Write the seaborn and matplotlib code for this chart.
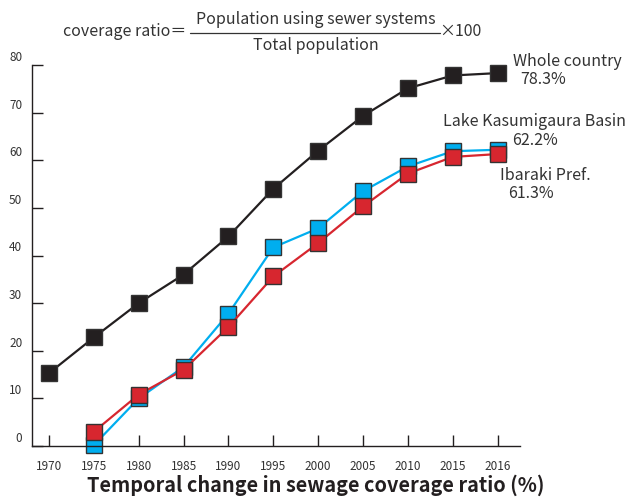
import matplotlib
matplotlib.use("Agg")
import matplotlib.pyplot as plt
import matplotlib.transforms as mtransforms
from matplotlib.lines import Line2D
import seaborn as sns
import pandas as pd

# 年次と下水道普及率 (%)
years = ["1970", "1975", "1980", "1985", "1990", "1995", "2000", "2005", "2010", "2015", "2016"]
whole_country = [15.3, 22.8, 30.0, 36.0, 44.0, 54.0, 62.0, 69.3, 75.1, 77.8, 78.3]
kasumigaura = [None, 0.2, 10.0, 16.6, 27.8, 41.7, 45.7, 53.5, 58.7, 61.9, 62.2]
ibaraki = [None, 3.0, 10.8, 16.0, 25.0, 35.6, 42.6, 50.3, 57.2, 60.7, 61.3]
yticks = [0, 10, 20, 30, 40, 50, 60, 70, 80]

df = pd.DataFrame({"year": years, "whole": whole_country,
                   "lake": kasumigaura, "ibaraki": ibaraki})

sns.set_style("white")
plt.rcParams["font.family"] = ["Noto Sans CJK JP", "DejaVu Sans"]

fig = plt.figure(figsize=(6.25, 4.97), dpi=100)
ax = fig.add_axes([32 / 625, 51 / 497, 488 / 625, 381 / 497])

style = dict(markers="s", markersize=12, markeredgecolor="#333333",
             markeredgewidth=1.0, linewidth=1.6, clip_on=False)
sns.pointplot(data=df, x="year", y="whole", color="#231f20", ax=ax, **style)
sns.pointplot(data=df, x="year", y="lake", color="#00aeef", ax=ax, **style)
sns.pointplot(data=df, x="year", y="ibaraki", color="#d7262f", ax=ax, **style)

ax.set_xlim(-0.38, 10.5)
ax.set_ylim(0, 80)
ax.set_yticks(yticks)
ax.set_xlabel("")
ax.set_ylabel("")
for s in ["top", "right"]:
    ax.spines[s].set_visible(False)
for s in ["left", "bottom"]:
    ax.spines[s].set_color("#231f20")
    ax.spines[s].set_linewidth(1.0)
ax.tick_params(axis="both", bottom=True, left=True, direction="in", length=8,
               width=1.0, color="#231f20", labelsize=8.5, labelcolor="#333333")
ax.tick_params(axis="y", pad=7)
ax.tick_params(axis="x", pad=10)
# y軸ラベルは目盛りより少し上に
offset = mtransforms.ScaledTranslation(0, 6.5 / 72, fig.dpi_scale_trans)
for lab in ax.get_yticklabels():
    lab.set_transform(lab.get_transform() + offset)

def px(x, y):
    return x / 625, 1 - y / 497

tc = "#333333"
fs = 11.5
fig.text(*px(186, 32), "coverage ratio＝", ha="right", va="center", fontsize=fs, color=tc)
fig.text(*px(316, 20), "Population using sewer systems", ha="center", va="center", fontsize=fs, color=tc)
fig.text(*px(316, 45), "Total population", ha="center", va="center", fontsize=fs, color=tc)
fig.text(*px(439, 32), "×100", ha="left", va="center", fontsize=fs, color=tc)
fig.add_artist(Line2D([190 / 625, 440 / 625], [1 - 33 / 497, 1 - 33 / 497],
                      color=tc, linewidth=0.9))

fig.text(*px(513, 61), "Whole country", ha="left", va="center", fontsize=fs, color=tc)
fig.text(*px(520, 79), "78.3%", ha="left", va="center", fontsize=fs, color=tc)
fig.text(*px(443, 121), "Lake Kasumigaura Basin", ha="left", va="center", fontsize=fs, color=tc)
fig.text(*px(512, 140), "62.2%", ha="left", va="center", fontsize=fs, color=tc)
fig.text(*px(500, 175), "Ibaraki Pref.", ha="left", va="center", fontsize=fs, color=tc)
fig.text(*px(508, 194), "61.3%", ha="left", va="center", fontsize=fs, color=tc)

fig.text(*px(316, 485), "Temporal change in sewage coverage ratio (%)", ha="center",
         va="center", fontsize=14.3, fontweight="bold", color="#231f20")

fig.savefig("out.png", dpi=100)
